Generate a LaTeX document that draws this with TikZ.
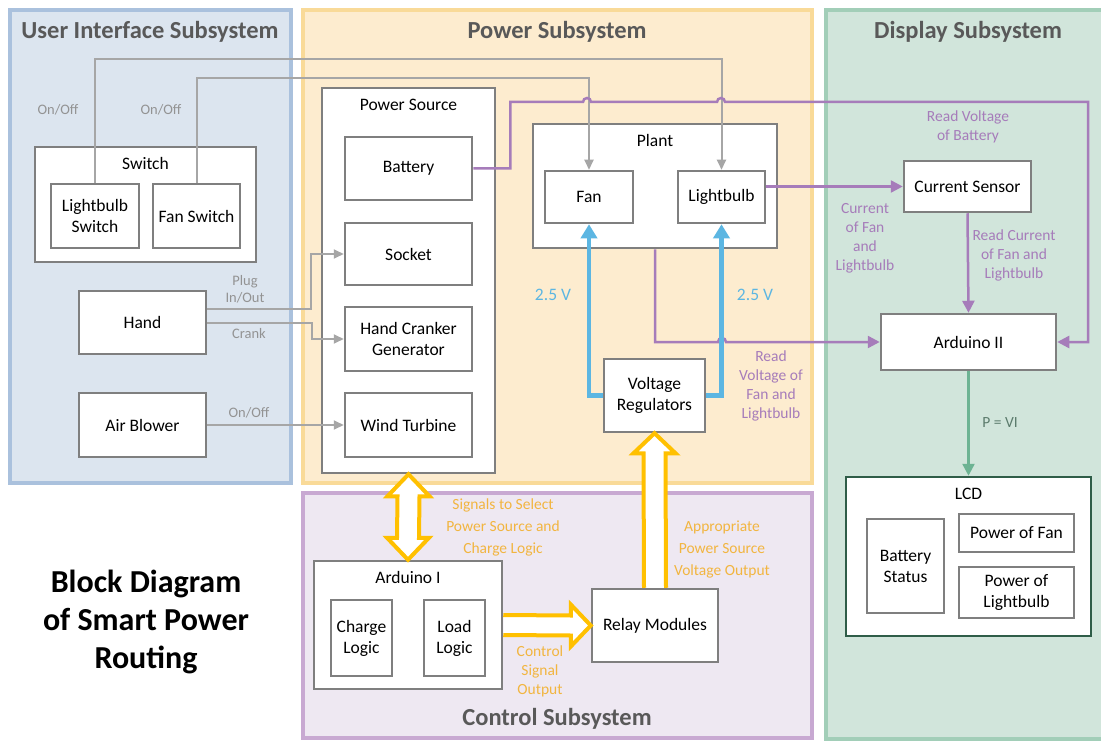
\documentclass[tikz,border=0pt]{standalone}
\usepackage{fontspec}
\setmainfont{Carlito}
\usetikzlibrary{arrows.meta,calc,positioning}

\definecolor{uifill}{HTML}{DCE5EF}
\definecolor{uiedge}{HTML}{AAC1DD}
\definecolor{pwfill}{HTML}{FDECCF}
\definecolor{pwedge}{HTML}{F9DA98}
\definecolor{dsfill}{HTML}{D1E5DB}
\definecolor{dsedge}{HTML}{A2CEB8}
\definecolor{ctfill}{HTML}{EEE8F2}
\definecolor{ctedge}{HTML}{C8A9D2}
\definecolor{boxgray}{HTML}{7F7F7F}
\definecolor{wiregray}{HTML}{A6A6A6}
\definecolor{labelgray}{HTML}{939393}
\definecolor{sigpurple}{HTML}{A67CBA}
\definecolor{voltblue}{HTML}{5CB6E2}
\definecolor{pvgreen}{HTML}{6DB393}
\definecolor{pvtext}{HTML}{5B7B6C}
\definecolor{lcdgreen}{HTML}{2F5D48}
\definecolor{ctrlgold}{HTML}{FFC000}
\definecolor{ctrltext}{HTML}{F2B540}
\definecolor{titlegray}{HTML}{595959}

\tikzset{
  blk/.style={draw=boxgray, line width=2.5pt, fill=white, align=center,
    font=\fontsize{17.5}{21}\selectfont, inner sep=2pt},
  cont/.style={blk, label={[font=\fontsize{17.5}{21}\selectfont, anchor=center, yshift=-18pt]north:#1}},
  panel/.style={line width=4pt},
  ttl/.style={font=\fontsize{24.5}{28}\bfseries\selectfont, text=titlegray},
  glbl/.style={font=\fontsize{14.5}{17}\selectfont, text=labelgray, align=center},
  plbl/.style={font=\fontsize{15.5}{19}\selectfont, text=sigpurple, align=center},
  blbl/.style={font=\fontsize{17.5}{19}\selectfont, text=voltblue, align=center},
  olbl/.style={font=\fontsize{15.5}{22}\selectfont, text=ctrltext, align=center},
  gline/.style={draw=wiregray, line width=2pt, -{Triangle[length=10pt,width=9pt]}},
  pline/.style={draw=sigpurple, line width=2.5pt, -{Triangle[length=12pt,width=12pt]}},
  bline/.style={draw=voltblue, line width=4.5pt, -{Triangle[length=14pt,width=16pt]}},
  gnline/.style={draw=pvgreen, line width=2.5pt, -{Triangle[length=12pt,width=12pt]}},
  yarr/.style={draw=ctrlgold, line width=4pt, fill=white, line join=miter}
}

\begin{document}
\begin{tikzpicture}[x=1pt, y=-1pt]
    \useasboundingbox (0,0) rectangle (1101,741);

    % Subsystem panels
    \draw[panel, draw=uiedge, fill=uifill] (10,10) rectangle (291,483);
    \draw[panel, draw=pwedge, fill=pwfill] (303,10) rectangle (812,483);
    \draw[panel, draw=dsedge, fill=dsfill] (826,10) rectangle (1114,739);
    \draw[panel, draw=ctedge, fill=ctfill] (303,493) rectangle (812,738);
    \node[ttl] (uititle) at (150,32) {User Interface Subsystem};
    \node[ttl] (pwtitle) at (557,32) {Power Subsystem};
    \node[ttl] (dstitle) at (968,32) {Display Subsystem};
    \node[ttl] (cttitle) at (557,719) {Control Subsystem};
    \node[font=\fontsize{32}{38}\bfseries\selectfont, align=center] (maintitle) at (146,622)
        {Block Diagram\\of Smart Power\\Routing};

    % User interface
    \node[cont=Switch, minimum width=221pt, minimum height=115pt] (sw) at (145.5,204.5) {};
    \node[blk, minimum width=88pt, minimum height=64pt] (lbsw) at (95,216) {Lightbulb\\Switch};
    \node[blk, minimum width=87pt, minimum height=64pt] (fsw) at (196.5,216) {Fan Switch};
    \node[blk, minimum width=127pt, minimum height=63pt] (hand) at (142.5,322.5) {Hand};
    \node[blk, minimum width=127pt, minimum height=64pt] (airb) at (142.5,425) {Air Blower};

    % Power
    \node[cont=Power Source, minimum width=173pt, minimum height=385pt] (psrc) at (408.5,280.5) {};
    \node[blk, minimum width=127pt, minimum height=63pt] (bat) at (408.5,168.5) {Battery};
    \node[blk, minimum width=127pt, minimum height=62pt] (sock) at (408.5,254) {Socket};
    \node[blk, minimum width=127pt, minimum height=64pt] (hcg) at (408.5,339) {Hand Cranker\\Generator};
    \node[blk, minimum width=127pt, minimum height=64pt] (wt) at (408.5,425) {Wind Turbine};
    \node[cont=Plant, minimum width=244pt, minimum height=124pt] (plant) at (655,186) {};
    \node[blk, minimum width=88pt, minimum height=52pt] (fan) at (589,197) {Fan};
    \node[blk, minimum width=87pt, minimum height=52pt] (lb) at (721.5,197) {Lightbulb};
    \node[blk, minimum width=101pt, minimum height=73pt] (vreg) at (654.5,395.5) {Voltage\\Regulators};

    % Display
    \node[blk, minimum width=127pt, minimum height=51pt] (cs) at (967.5,186.5) {Current Sensor};
    \node[blk, minimum width=175pt, minimum height=56pt] (ard2) at (968.5,342) {Arduino II};
    \node[cont=LCD, draw=lcdgreen, minimum width=245pt, minimum height=159pt] (lcd) at (968.5,556.5) {};
    \node[blk, minimum width=77pt, minimum height=94pt] (bstat) at (905.5,566) {Battery\\Status};
    \node[blk, minimum width=115pt, minimum height=38pt] (pfan) at (1016.5,533) {Power of Fan};
    \node[blk, minimum width=115pt, minimum height=51pt] (plb) at (1016.5,592.5) {Power of\\Lightbulb};

    % Control
    \node[cont=Arduino I, minimum width=188pt, minimum height=128pt] (ard1) at (408,625) {};
    \node[blk, minimum width=61pt, minimum height=76pt] (chg) at (361.5,638) {Charge\\Logic};
    \node[blk, minimum width=61pt, minimum height=76pt] (load) at (454.5,638) {Load\\Logic};
    \node[blk, minimum width=126pt, minimum height=73pt] (relay) at (655,625.5) {Relay Modules};

    % User inputs
    \draw[gline] (lbsw.north) -- ++(0,-124) -| (lb.north);
    \draw[gline] (fsw.north) -- ++(0,-105) -| (fan.north);
    \draw[gline] ([yshift=13.5pt]hand.east) -- ++(104,0) |- (sock.west);
    \draw[gline] (hand.east) -- ++(105,0) |- (hcg.west);
    \draw[gline] (airb.east) -- (wt.west);
    \node[glbl] (onoff1) at (58,110) {On/Off};
    \node[glbl] (onoff2) at (161,110) {On/Off};
    \node[glbl] (plug) at (245,289) {Plug\\In/Out};
    \node[glbl] (crank) at (249,334) {Crank};
    \node[glbl] (onoff3) at (249,413) {On/Off};

    % Sensing
    \draw[pline] (bat.east) -- ++(37,0) |- (583,102)
        arc[start angle=180, end angle=0, radius=4pt] -- (717,102)
        arc[start angle=180, end angle=0, radius=4pt] -- (1088,102) |- (ard2.east);
    \draw[pline] (lb.east |- cs.west) -- (cs.west);
    \draw[pline] (plant.south) |- (718,342)
        arc[start angle=180, end angle=0, radius=4pt] -- (ard2.west);
    \draw[pline] (cs.south) -- (ard2.north);
    \node[plbl] (rvbat) at (968,127) {Read Voltage\\of Battery};
    \node[plbl] (curfl) at (865,238) {Current\\of Fan\\and\\Lightbulb};
    \node[plbl] (rcur) at (1014,255) {Read Current\\of Fan and\\Lightbulb};
    \node[plbl] (rvfl) at (771,386) {Read\\Voltage of\\Fan and\\Lightbulb};

    % Regulated supply
    \draw[bline] (vreg.west) -| (fan.south);
    \draw[bline] (vreg.east) -| (lb.south);
    \node[blbl] (vfan) at (553,295) {2.5 V};
    \node[blbl] (vlb) at (755,295) {2.5 V};

    % Power readout
    \draw[gnline] (ard2.south) -- (lcd.north);
    \node[font=\fontsize{15.5}{19}\selectfont, text=pvtext] (pvi) at (1000,423) {P = VI};

    % Control arrows
    \draw[yarr] (psrc.south) -- ([xshift=21pt,yshift=-22pt]psrc.south)
        -- ([xshift=11pt,yshift=-22pt]psrc.south) -- ([xshift=11pt,yshift=22pt]ard1.north)
        -- ([xshift=21pt,yshift=22pt]ard1.north) -- (ard1.north)
        -- ([xshift=-21pt,yshift=22pt]ard1.north) -- ([xshift=-11pt,yshift=22pt]ard1.north)
        -- ([xshift=-11pt,yshift=-22pt]psrc.south) -- ([xshift=-21pt,yshift=-22pt]psrc.south) -- cycle;
    \draw[yarr] ([yshift=10pt]ard1.east) -- ([xshift=-20pt,yshift=10pt]relay.west)
        -- ([xshift=-20pt,yshift=21pt]relay.west) -- (relay.west)
        -- ([xshift=-20pt,yshift=-21pt]relay.west) -- ([xshift=-20pt,yshift=-10pt]relay.west)
        -- ([yshift=-10pt]ard1.east);
    \draw[yarr] ([xshift=-11pt]relay.north) -- ([xshift=-11pt,yshift=-20pt]vreg.south)
        -- ([xshift=-21pt,yshift=-20pt]vreg.south) -- (vreg.south)
        -- ([xshift=21pt,yshift=-20pt]vreg.south) -- ([xshift=11pt,yshift=-20pt]vreg.south)
        -- ([xshift=11pt]relay.north);
    \node[olbl] (selsig) at (503,527) {Signals to Select\\Power Source and\\Charge Logic};
    \node[olbl] (appv) at (722,549) {Appropriate\\Power Source\\Voltage Output};
    \node[olbl, font=\fontsize{15.5}{19}\selectfont] (ctlsig) at (540,671) {Control\\Signal\\Output};
\end{tikzpicture}
\end{document}
